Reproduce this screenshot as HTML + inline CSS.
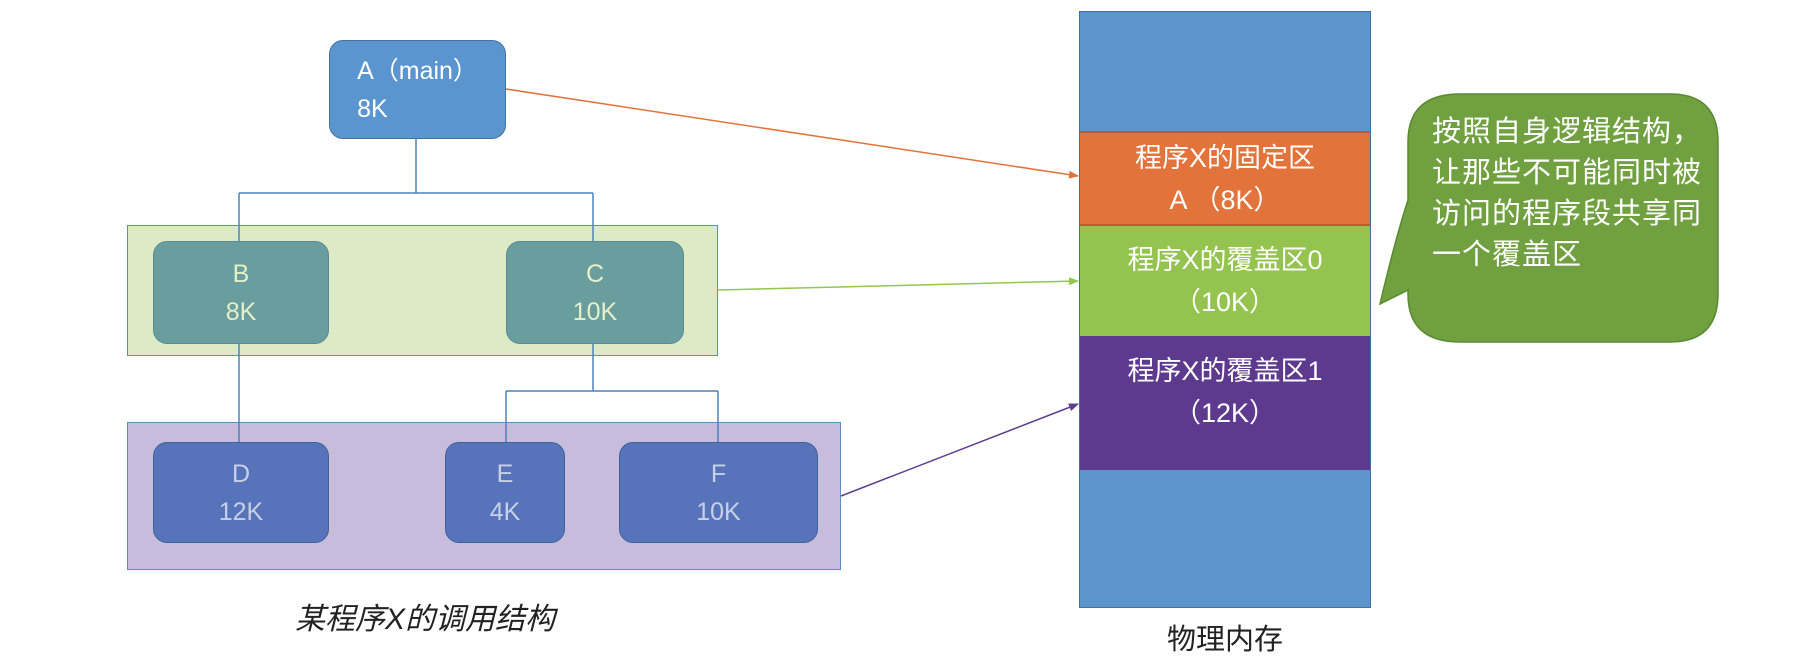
<!DOCTYPE html>
<html><head><meta charset="utf-8"><style>
body{margin:0;width:1798px;height:670px;background:#fff;position:relative;overflow:hidden;font-family:"Liberation Sans","Noto Sans CJK SC",sans-serif}
.a{position:absolute;box-sizing:border-box}
.n{border-radius:14px;display:flex;flex-direction:column;justify-content:center;align-items:center;font-size:25px;line-height:38px}
.m{display:flex;flex-direction:column;justify-content:center;align-items:center;color:#fff;font-size:27px;line-height:42px}
</style></head><body>
<div class="a" style="left:127px;top:225px;width:591px;height:131px;background:#dcebc6;border:1.5px solid #5b8fc9"></div>
<div class="a" style="left:127px;top:422px;width:714px;height:148px;background:#c8bcdc;border:1.5px solid #5b8fc9"></div>
<svg class="a" style="left:0;top:0" width="1798" height="670">
<defs>
<marker id="o" markerWidth="10" markerHeight="10" refX="9" refY="5" orient="auto" markerUnits="userSpaceOnUse"><path d="M0,1 L10,5 L0,9z" fill="#e2733b"/></marker>
<marker id="g" markerWidth="10" markerHeight="10" refX="9" refY="5" orient="auto" markerUnits="userSpaceOnUse"><path d="M0,1 L10,5 L0,9z" fill="#92c74f"/></marker>
<marker id="p" markerWidth="10" markerHeight="10" refX="9" refY="5" orient="auto" markerUnits="userSpaceOnUse"><path d="M0,1 L10,5 L0,9z" fill="#5e3d8f"/></marker>
</defs>
<g stroke="#4f81bd" stroke-width="1.5" fill="none">
<path d="M416,139 V193 M239,193 H593 M239,193 V241 M593,193 V241"/>
<path d="M239,344 V442 M593,344 V391 M506,391 H718 M506,391 V442 M718,391 V442"/>
</g>
<line x1="506" y1="89" x2="1078" y2="176" stroke="#e2733b" stroke-width="1.5" marker-end="url(#o)"/>
<line x1="718" y1="290" x2="1078" y2="281" stroke="#92c74f" stroke-width="1.5" marker-end="url(#g)"/>
<line x1="841" y1="496" x2="1078" y2="404" stroke="#5e3d8f" stroke-width="1.5" marker-end="url(#p)"/>
<path d="M1460,94 H1670 Q1718,94 1718,142 V294 Q1718,342 1670,342 H1460 Q1408,342 1408,294 V290 L1380,304 Q1395,240 1408,200 V142 Q1408,94 1460,94z" fill="#70a040" stroke="#5a8a30" stroke-width="1.5"/>
</svg>
<div class="a n" style="left:329px;top:40px;width:177px;height:99px;background:#5b95cf;border:1.5px solid #41719c;color:#fff">A（main）<br>8K</div>
<div class="a n" style="left:153px;top:241px;width:176px;height:103px;background:#6a9e9e;border:1.5px solid #5a8a9a;color:#e4f0c8"><span>B</span><span>8K</span></div>
<div class="a n" style="left:506px;top:241px;width:178px;height:103px;background:#6a9e9e;border:1.5px solid #5a8a9a;color:#e4f0c8"><span>C</span><span>10K</span></div>
<div class="a n" style="left:153px;top:442px;width:176px;height:101px;background:#5774bb;border:1.5px solid #41619c;color:#c8d0e8"><span>D</span><span>12K</span></div>
<div class="a n" style="left:445px;top:442px;width:120px;height:101px;background:#5774bb;border:1.5px solid #41619c;color:#c8d0e8"><span>E</span><span>4K</span></div>
<div class="a n" style="left:619px;top:442px;width:199px;height:101px;background:#5774bb;border:1.5px solid #41619c;color:#c8d0e8"><span>F</span><span>10K</span></div>
<div class="a" style="left:1079px;top:11px;width:292px;height:597px;background:#5b95cb;border:1.5px solid #41719c"></div>
<div class="a m" style="left:1080px;top:131px;width:290px;height:95px;background:#e2733b;border-top:2px solid #c05a28;border-bottom:2px solid #c05a28"><span>程序X的固定区</span><span>A （8K）</span></div>
<div class="a m" style="left:1080px;top:226px;width:290px;height:110px;background:#95c350"><span>程序X的覆盖区0</span><span>（10K）</span></div>
<div class="a m" style="left:1080px;top:336px;width:290px;height:134px;background:#5e3a8e;padding-bottom:22px"><span>程序X的覆盖区1</span><span>（12K）</span></div>
<div class="a" style="left:1432px;top:112px;width:270px;color:#fff;font-size:29px;line-height:41px;letter-spacing:1px">按照自身逻辑结构，让那些不可能同时被访问的程序段共享同一个覆盖区</div>
<div class="a" style="left:250px;top:594px;width:350px;text-align:center;font-size:30px;font-style:italic;color:#222">某程序X的调用结构</div>
<div class="a" style="left:1100px;top:616px;width:250px;text-align:center;font-size:29px;color:#222">物理内存</div>
</body></html>
